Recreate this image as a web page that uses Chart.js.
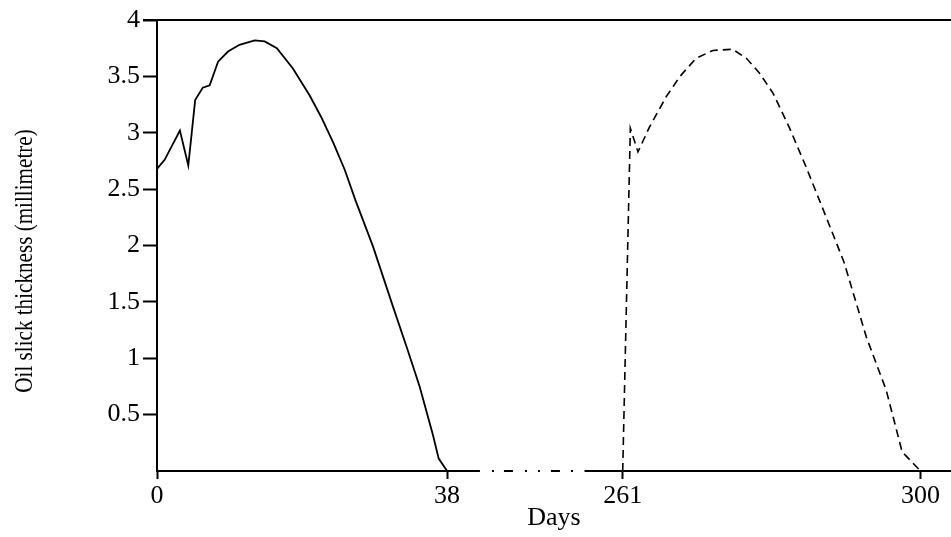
<!DOCTYPE html>
<html><head><meta charset="utf-8">
<script src="https://cdn.jsdelivr.net/npm/chart.js@4"></script>
<style>html,body{margin:0;padding:0;background:#fff}#wrap{width:951px;height:537px;position:relative}</style>
</head><body><div id="wrap"><canvas id="c" width="951" height="537"></canvas></div>
<script>
// ---- data ----
const firstDays = [0, 1.0, 3.0, 4.1, 5.0, 6.0, 6.9, 8.0, 9.3, 10.8, 12.8, 14.1, 15.7, 17.8, 20.0, 21.5, 23.1, 24.6, 26.0, 28.3, 30.9, 32.7, 34.4, 36.1, 36.9, 38];
const firstThickness = [2.68, 2.76, 3.02, 2.71, 3.29, 3.40, 3.42, 3.63, 3.72, 3.78, 3.82, 3.81, 3.75, 3.57, 3.33, 3.14, 2.91, 2.67, 2.40, 1.99, 1.46, 1.10, 0.75, 0.33, 0.11, 0];
const secondDays = [261, 262.0, 263.0, 264.5, 266.7, 268.5, 270.6, 272.8, 275.4, 277.2, 278.9, 280.7, 282.8, 285.0, 287.6, 290.0, 292.9, 295.5, 297.6, 300];
const secondThickness = [0, 3.04, 2.83, 3.05, 3.32, 3.50, 3.66, 3.73, 3.74, 3.66, 3.53, 3.35, 3.05, 2.70, 2.26, 1.85, 1.19, 0.72, 0.17, 0];
const xTickDays = [0, 38, 261, 300];
const yTickValues = [0.5, 1, 1.5, 2, 2.5, 3, 3.5, 4];
const xTitle = 'Days';
const yTitle = 'Oil slick thickness (millimetre)';

// broken axis: days 38..261 collapsed into a short gap
const BREAK_START = 38, BREAK_END = 261, GAP_UNITS = 23;
function mapDay(d) { return d >= BREAK_END ? d - BREAK_END + BREAK_START + GAP_UNITS : d; }
function unmap(v) { return v > BREAK_START + 1 ? v - BREAK_START - GAP_UNITS + BREAK_END : v; }

const FONT = 'Liberation Serif';
const FS = 26;
const FS_YTITLE = 25;

const axisPlugin = {
  id: 'axisDecor',
  afterDraw(chart) {
    const {ctx, chartArea} = chart;
    const xs = chart.scales.x;
    ctx.save();
    ctx.strokeStyle = '#000';
    ctx.lineWidth = 2;
    // top border line
    ctx.beginPath();
    ctx.moveTo(chartArea.left - 14, chartArea.top);
    ctx.lineTo(chartArea.right, chartArea.top);
    ctx.stroke();
    // x axis with dash-dot break
    const y = chartArea.bottom;
    const bStart = xs.getPixelForValue(BREAK_START + 4.3);
    const bEnd = xs.getPixelForValue(BREAK_START + GAP_UNITS - 5);
    ctx.beginPath();
    ctx.moveTo(chartArea.left - 1, y); ctx.lineTo(bStart, y);
    ctx.moveTo(bEnd, y); ctx.lineTo(chartArea.right, y);
    ctx.stroke();
    ctx.setLineDash([2, 10, 9, 12, 2, 11, 2, 11, 9, 11, 2, 40]);
    ctx.beginPath();
    ctx.moveTo(bStart + 12, y); ctx.lineTo(bEnd, y);
    ctx.stroke();
    ctx.setLineDash([]);
    // y title (slightly condensed serif, like the reference)
    ctx.fillStyle = '#000';
    ctx.font = FS_YTITLE + 'px "' + FONT + '"';
    ctx.textAlign = 'center';
    ctx.textBaseline = 'middle';
    ctx.translate(25, 261);
    ctx.rotate(-Math.PI / 2);
    ctx.scale(0.845, 1);
    ctx.fillText(yTitle, 0, 0);
    ctx.restore();
  }
};

new Chart(document.getElementById('c'), {
  type: 'line',
  data: {
    datasets: [
      {
        data: firstDays.map((d, i) => ({x: mapDay(d), y: firstThickness[i]})),
        borderColor: '#000', borderWidth: 1.8, pointRadius: 0, tension: 0, fill: false
      },
      {
        data: secondDays.map((d, i) => ({x: mapDay(d), y: secondThickness[i]})),
        borderColor: '#000', borderWidth: 1.6, borderDash: [8, 5], pointRadius: 0, tension: 0, fill: false
      }
    ]
  },
  options: {
    responsive: false,
    animation: false,
    devicePixelRatio: 1,
    clip: false,
    layout: {padding: {top: 20, right: 0, left: 0, bottom: 0}},
    plugins: {legend: {display: false}, tooltip: {enabled: false}},
    scales: {
      x: {
        type: 'linear', min: 0, max: 104,
        afterBuildTicks: s => { s.ticks = xTickDays.map(d => ({value: mapDay(d)})); },
        afterFit: s => { s.height = 66; },
        ticks: {
          autoSkip: false, maxRotation: 0, padding: 2, color: '#000',
          font: {family: FONT, size: FS},
          callback: v => String(Math.round(unmap(v)))
        },
        grid: {display: true, drawOnChartArea: false, drawTicks: true, tickLength: 8, tickWidth: 2, tickColor: '#000'},
        border: {display: false},
        title: {display: true, text: xTitle, color: '#000', font: {family: FONT, size: FS}, padding: {top: 0, bottom: 3}}
      },
      y: {
        type: 'linear', min: 0, max: 4,
        afterBuildTicks: s => { s.ticks = yTickValues.map(v => ({value: v})); },
        afterFit: s => { s.width = 157; },
        ticks: {color: '#000', padding: 3, font: {family: FONT, size: FS}, callback: v => String(v)},
        grid: {display: true, drawOnChartArea: false, drawTicks: true, tickLength: 14, tickWidth: 2, tickColor: '#000'},
        border: {display: true, color: '#000', width: 2}
      }
    }
  },
  plugins: [axisPlugin]
});
</script>
</body></html>
